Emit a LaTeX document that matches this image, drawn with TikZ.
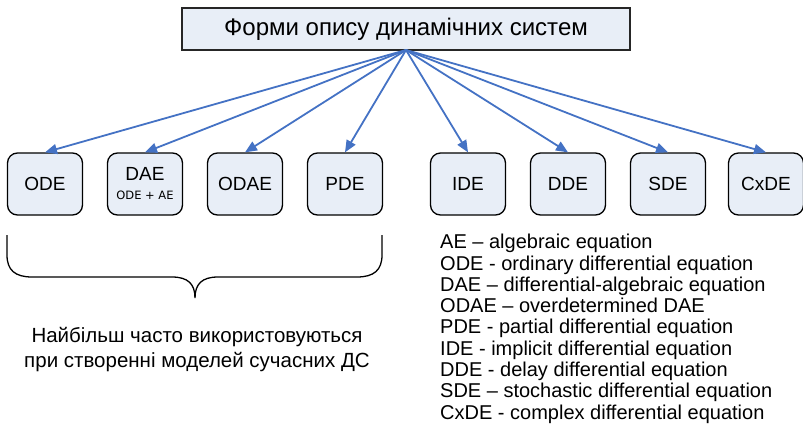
\documentclass[tikz,border=0pt]{standalone}
\usepackage{fontspec}
\setmainfont{Liberation Sans}
\newfontfamily\smallfam{DejaVu Sans}
\usetikzlibrary{arrows.meta}
\definecolor{arrowblue}{HTML}{4472C4}
\definecolor{boxfill}{HTML}{E8EEF7}
\begin{document}
\begin{tikzpicture}[x=1pt,y=-1pt,
  eqbox/.style={draw=black, line width=1.3pt, fill=boxfill, rounded corners=10pt,
    minimum width=75pt, minimum height=62pt, inner sep=0pt,
    font=\fontsize{19}{21}\selectfont, align=center},
  titlebox/.style={draw=black!85, line width=1.4pt, fill=boxfill,
    minimum width=448pt, minimum height=42pt, inner sep=0pt,
    font=\fontsize{24}{26}\selectfont},
  link/.style={draw=arrowblue, line width=1.8pt,
    -{Triangle[length=12pt,width=10pt]}},
  legend/.style={anchor=north west, align=left, inner sep=0pt,
    font=\fontsize{20}{21.3}\selectfont},
  note/.style={align=center, inner sep=0pt, font=\fontsize{20.5}{25}\selectfont},
  brace/.style={draw=black, line width=1.3pt}]
\useasboundingbox (0,0) rectangle (803,424);

\node[titlebox] (title) at (406,29) {Форми опису динамічних систем};
\coordinate (hub) at (406,50);

\node[eqbox] (ode)  at (45,184)  {ODE};
\node[eqbox] (dae)  at (145,184) {DAE\\[-2pt]{\smallfam\fontsize{11.5}{13}\selectfont ODE + AE}};
\node[eqbox] (odae) at (245,184) {ODAE};
\node[eqbox] (pde)  at (345,184) {PDE};
\node[eqbox] (ide)  at (468,184) {IDE};
\node[eqbox] (dde)  at (568,184) {DDE};
\node[eqbox] (sde)  at (668,184) {SDE};
\node[eqbox] (cxde) at (766,184) {CxDE};

\foreach \t in {ode,dae,odae,pde,ide,dde,sde,cxde}
  \draw[link] (hub) -- (\t.north);

\draw[brace] (7,235) -- (7,255) .. controls (7,270) and (15,277) .. (32,277)
  -- (172,277) .. controls (188,277) and (195,284) .. (195,298)
  .. controls (195,284) and (202,277) .. (218,277)
  -- (357,277) .. controls (374,277) and (382,270) .. (382,255) -- (382,235);

\node[note] (usage) at (197,350) {Найбільш часто використовуються\\при створенні моделей сучасних ДС};

\node[legend] (leg) at (440,234) {AE – algebraic equation\\
ODE - ordinary differential equation\\
DAE – differential-algebraic equation\\
ODAE – overdetermined DAE\\
PDE - partial differential equation\\
IDE - implicit differential equation\\
DDE - delay differential equation\\
SDE – stochastic differential equation\\
CxDE - complex differential equation};
\end{tikzpicture}
\end{document}
